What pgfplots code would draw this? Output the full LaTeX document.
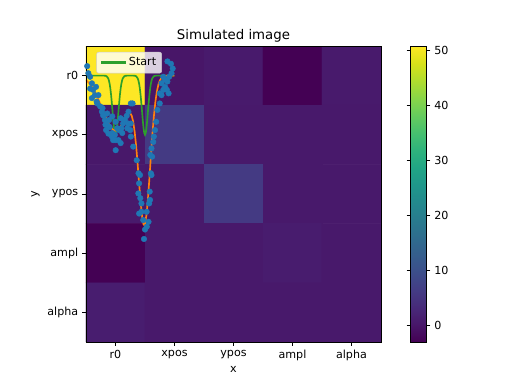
\documentclass[border=0pt]{standalone}
\usepackage{fontspec}
\setmainfont{DejaVu Sans}
\usepackage{pgfplots}
\pgfplotsset{compat=1.18}
\definecolor{tabblue}{HTML}{1F77B4}
\definecolor{taborange}{HTML}{FF7F0E}
\definecolor{tabgreen}{HTML}{2CA02C}
\pgfplotsset{/pgf/number format/assume math mode=true}
\begin{document}
\begin{tikzpicture}
\begin{axis}[
  scale only axis, width=265.5pt, height=266.4pt,
  xmin=-0.5, xmax=4.5, ymin=-0.5, ymax=4.5, y dir=reverse,
  enlargelimits=false, axis on top,
  axis line style={line width=0.8pt},
  xtick={0,1,2,3,4}, xticklabels={r0,xpos,ypos,ampl,alpha},
  ytick={0,1,2,3,4}, yticklabels={r0,xpos,ypos,ampl,alpha},
  tick align=outside, xtick pos=left, ytick pos=left,
  major tick length=3.5pt, tick style={black, line width=0.8pt},
  ticklabel style={font=\fontsize{10}{12}\selectfont},
  xlabel={x}, ylabel={y},
  xlabel style={yshift=2pt},
  label style={font=\fontsize{10}{12}\selectfont},
  title={Simulated image},
  title style={font=\fontsize{12}{14}\selectfont, yshift=-6pt},
  colormap/viridis, colorbar,
  point meta min=-3.04, point meta max=50.73,
  colorbar style={
    at={(parent axis.north east)}, anchor=north west, xshift=18pt,
    width=14.4pt,
    ytick={0,10,20,30,40,50},
    tick align=outside, major tick length=3.5pt,
    axis line style={line width=0.8pt},
    tick style={black, line width=0.8pt},
    yticklabel style={font=\fontsize{10}{12}\selectfont},
  },
  legend style={at={(0.035,0.98)}, anchor=north west, fill=white,
    fill opacity=0.8, text opacity=1, draw=black!20, rounded corners=2pt,
    font=\fontsize{10}{12}\selectfont, inner sep=3pt},
  legend cell align=left,
]
\addplot[matrix plot*, mesh/cols=5, point meta=explicit, forget plot]
  table[meta=c] {
x y c
0 0 50.7
1 0 0.0
2 0 0.6
3 0 -3.04
4 0 0.6
0 1 0.3
1 1 6.0
2 1 0.5
3 1 0.5
4 1 0.5
0 2 0.6
1 2 0.4
2 2 6.0
3 2 0.5
4 2 0.5
0 3 -3.04
1 3 0.5
2 3 0.5
3 3 1.0
4 3 0.5
0 4 1.2
1 4 0.5
2 4 0.5
3 4 0.5
4 4 0.5
};
\addplot[only marks, mark=*, mark size=2.5pt, color=tabblue, forget plot] table {
x y
-0.48 -0.16
-0.46 -0.04
-0.43 0.02
-0.40 0.13
-0.43 0.22
-0.38 0.24
-0.35 0.33
-0.40 0.38
-0.33 0.19
-0.32 0.44
-0.31 0.47
-0.29 0.33
-0.26 0.52
-0.23 0.61
-0.22 0.55
-0.21 0.67
-0.195 0.67
-0.18 0.75
-0.17 0.83
-0.16 0.92
-0.15 0.83
-0.14 0.64
-0.12 0.98
-0.11 0.75
-0.11 0.86
-0.10 0.87
-0.06 1.03
-0.054 0.69
-0.054 0.97
-0.04 1.09
-0.01 1.00
0.003 0.78
0.003 1.09
0.003 1.26
0.03 0.89
0.05 1.09
0.06 0.92
0.088 0.72
0.088 1.14
0.10 0.89
0.115 0.97
0.13 0.81
0.144 0.75
0.16 0.75
0.19 0.68
0.20 0.89
0.22 0.61
0.22 0.81
0.25 0.92
0.258 0.81
0.26 0.47
0.26 1.03
0.29 0.47
0.30 1.20
0.36 1.43
0.387 1.99
0.39 1.65
0.40 1.82
0.415 1.68
0.42 2.07
0.40 2.33
0.44 2.16
0.44 2.30
0.47 2.44
0.50 2.60
0.53 2.55
0.483 2.76
0.528 2.30
0.56 2.47
0.57 2.16
0.585 2.10
0.58 1.96
0.60 1.65
0.61 1.68
0.62 1.37
0.59 1.34
0.61 1.23
0.64 1.12
0.65 1.03
0.67 0.92
0.69 0.78
0.71 0.58
0.75 0.47
0.75 0.30
0.78 0.33
0.78 0.13
0.81 0.24
0.81 0.02
0.84 0.19
0.84 0.07
0.87 0.24
0.88 0.10
0.88 -0.24
0.90 0.30
0.91 0.02
0.94 -0.20
0.95 -0.04
0.97 -0.12
};
\addplot[tabgreen, line width=1.5pt,
  legend image code/.code={\draw[tabgreen, line width=2.2pt, opacity=1] (0pt,0pt) -- (22pt,0pt);}]
  coordinates {
(-0.5,0) (-0.3,0) (-0.2,0.0003) (-0.175,0.0022) (-0.15,0.011) (-0.125,0.044)
(-0.1125,0.080) (-0.1,0.135) (-0.0875,0.216) (-0.075,0.325) (-0.0625,0.458)
(-0.05,0.607) (-0.0375,0.755) (-0.025,0.883) (-0.0125,0.969) (0,1)
(0.0125,0.969) (0.025,0.883) (0.0375,0.755) (0.05,0.607) (0.0625,0.458)
(0.075,0.325) (0.0875,0.216) (0.1,0.135) (0.1125,0.080) (0.125,0.044)
(0.15,0.011) (0.175,0.0022) (0.2,0.0003) (0.25,0) (0.3,0.0003)
(0.325,0.0022) (0.35,0.011) (0.375,0.044) (0.3875,0.080) (0.4,0.135)
(0.4125,0.216) (0.425,0.325) (0.4375,0.458) (0.45,0.607) (0.4625,0.755)
(0.475,0.883) (0.4875,0.969) (0.5,1) (0.5125,0.969) (0.525,0.883)
(0.5375,0.755) (0.55,0.607) (0.5625,0.458) (0.575,0.325) (0.5875,0.216)
(0.6,0.135) (0.6125,0.080) (0.625,0.044) (0.65,0.011) (0.675,0.0022)
(0.7,0.0003) (0.8,0) (1.0,0)
};
\addlegendentry{Start}
\addplot[taborange, line width=1.5pt, forget plot] coordinates {
(-0.5,0.076) (-0.475,0.098) (-0.45,0.123) (-0.425,0.153) (-0.4,0.188)
(-0.375,0.228) (-0.35,0.273) (-0.325,0.324) (-0.3,0.378) (-0.275,0.437)
(-0.25,0.498) (-0.225,0.561) (-0.2,0.623) (-0.175,0.685) (-0.15,0.743)
(-0.125,0.796) (-0.1,0.842) (-0.075,0.879) (-0.05,0.907) (-0.025,0.924)
(0,0.930) (0.025,0.924) (0.05,0.907) (0.075,0.879) (0.1,0.843)
(0.125,0.799) (0.15,0.750) (0.175,0.702) (0.2,0.660) (0.225,0.634)
(0.25,0.635) (0.275,0.679) (0.3,0.779) (0.325,0.950) (0.35,1.189)
(0.375,1.488) (0.4,1.816) (0.425,2.128) (0.45,2.375) (0.475,2.511)
(0.4875,2.525) (0.5,2.504) (0.525,2.354) (0.55,2.083) (0.575,1.734)
(0.6,1.358) (0.625,1.000) (0.65,0.692) (0.675,0.451) (0.7,0.276)
(0.725,0.159) (0.75,0.086) (0.775,0.044) (0.8,0.022) (0.825,0.010)
(0.85,0.004) (0.875,0.002) (0.9,0.001) (0.95,0) (1.0,0)
};
\end{axis}
\pgfresetboundingbox
\path[use as bounding box] (-77.4pt,-37.8pt) rectangle (383.4pt,307.8pt);
\end{tikzpicture}
\end{document}
